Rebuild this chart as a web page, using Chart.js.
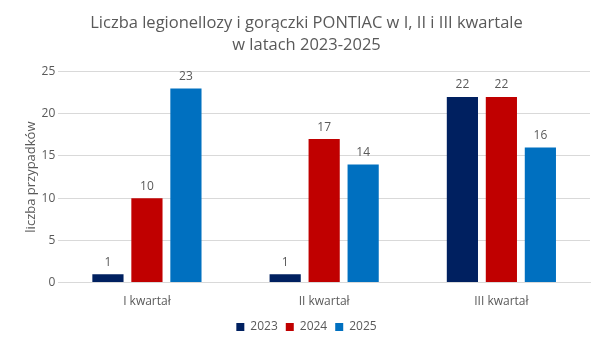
<!DOCTYPE html>
<html>
<head>
<meta charset="utf-8">
<script src="https://cdn.jsdelivr.net/npm/chart.js@4"></script>
<style>
  html, body { margin: 0; padding: 0; background: #fff; }
  #wrap { width: 604px; height: 344px; }
</style>
</head>
<body>
<div id="wrap"><canvas id="kwartaly"></canvas></div>
<script>
var quarters = ["I kwartał", "II kwartał", "III kwartał"];
var cases2023 = [1, 1, 22];
var cases2024 = [10, 17, 22];
var cases2025 = [23, 14, 16];
var yTicks = [0, 5, 10, 15, 20, 25];

var grey = "#595959";
var fontName = "'Open Sans', 'Liberation Sans', sans-serif";

// values above the bars
var barLabels = {
  id: "barLabels",
  afterDatasetsDraw: function(chart) {
    var c = chart.ctx;
    c.save();
    c.font = "12px " + fontName;
    c.fillStyle = grey;
    c.textAlign = "center";
    c.textBaseline = "bottom";
    chart.data.datasets.forEach(function(ds, i) {
      chart.getDatasetMeta(i).data.forEach(function(bar, j) {
        c.fillText(ds.data[j], bar.x, bar.y - 6);
      });
    });
    c.restore();
  }
};

var ctx = document.getElementById("kwartaly");
var chartBars = new Chart(ctx, {
  type: 'bar',
  data: {
    labels: quarters,
    datasets: [
      { label: "2023", data: cases2023, backgroundColor: "#002060" },
      { label: "2024", data: cases2024, backgroundColor: "#C00000" },
      { label: "2025", data: cases2025, backgroundColor: "#0070C0" }
    ]
  },
  options: {
    responsive: true,
    maintainAspectRatio: false,
    animation: false,
    layout: { padding: { left: 23, right: 14, top: 8, bottom: 1 } },
    datasets: { bar: { barPercentage: 0.8, categoryPercentage: 0.66 } },
    plugins: {
      title: {
        display: true,
        text: ["Liczba legionellozy i gorączki PONTIAC w I, II i III kwartale", "w latach 2023-2025"],
        color: grey,
        font: { family: fontName, size: 16.5, weight: "normal", lineHeight: 1.35 },
        padding: { top: 4, bottom: 15 }
      },
      legend: {
        position: "bottom",
        labels: {
          color: grey,
          font: { family: fontName, size: 12 },
          boxWidth: 8,
          boxHeight: 8,
          padding: 8
        }
      },
      tooltip: { enabled: false }
    },
    scales: {
      x: {
        grid: { display: false },
        border: { color: "#D9D9D9" },
        ticks: { color: grey, font: { family: fontName, size: 12 }, padding: 4 }
      },
      y: {
        min: 0,
        max: 25,
        afterBuildTicks: function(axis) {
          axis.ticks = yTicks.map(function(v) { return { value: v }; });
        },
        grid: { color: "#D9D9D9", drawTicks: false },
        border: { display: false },
        ticks: { color: grey, font: { family: fontName, size: 12 }, padding: 3 },
        title: {
          display: true,
          text: "liczba przypadków",
          color: grey,
          font: { family: fontName, size: 13 },
          padding: 0
        }
      }
    }
  },
  plugins: [barLabels]
});
</script>
</body>
</html>
